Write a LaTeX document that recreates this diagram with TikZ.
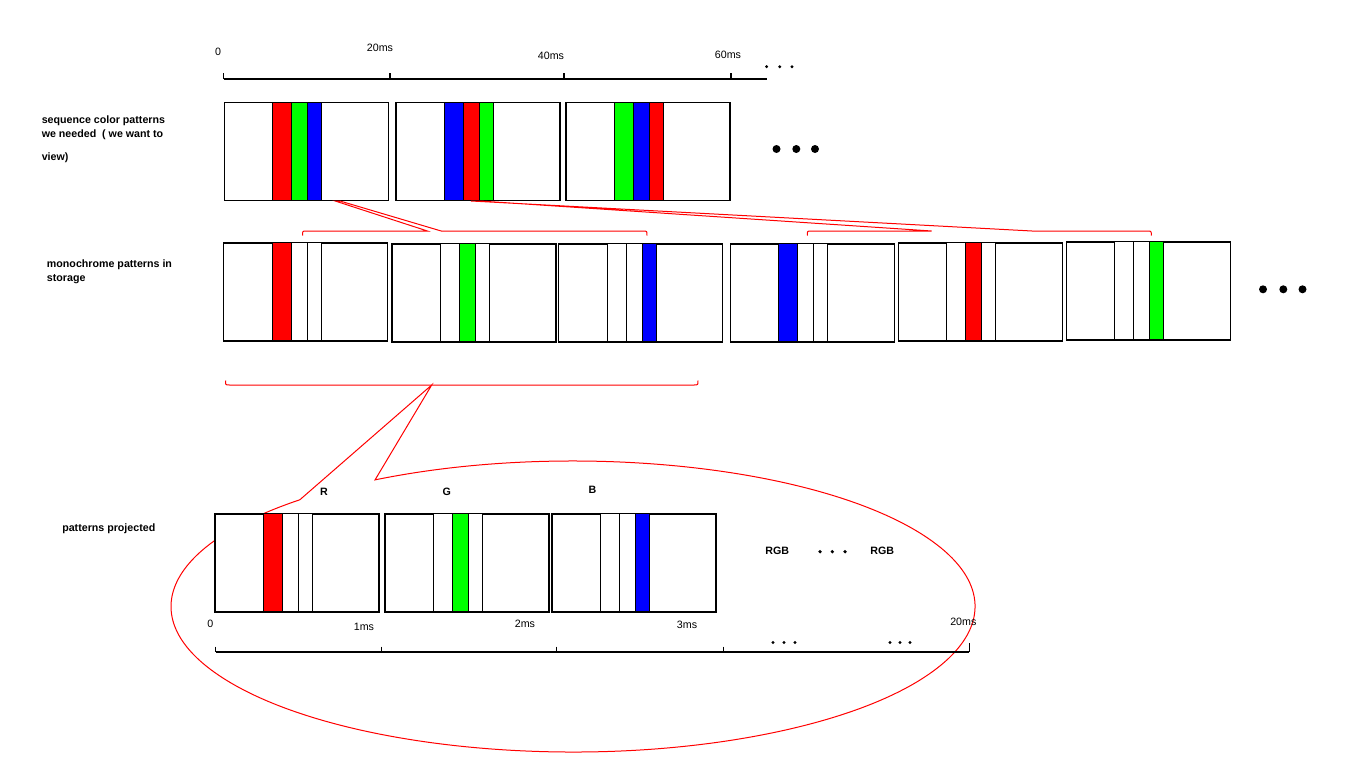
\documentclass[tikz,border=0pt]{standalone}
\usepackage{fontspec}
\setmainfont{Liberation Sans}

\begin{document}
\begin{tikzpicture}[
		x=0.75pt, y=-0.75pt,
		font=\fontsize{8}{10.7}\selectfont,
		frame/.style={draw=black, line width=0.9pt, fill=white, anchor=north west, minimum width=123pt, minimum height=73.5pt, inner sep=0pt},
		slot/.style={draw=black, line width=0.6pt},
		ruler/.style={draw=black, line width=0.9pt},
		caption/.style={font=\bfseries\fontsize{8}{10.7}\selectfont, align=left, anchor=base west, inner sep=0pt},
		letter/.style={font=\bfseries\fontsize{8}{10.7}\selectfont, inner sep=0pt},
		ticklabel/.style={inner sep=0pt},
		callout/.style={draw=red, line width=0.75pt},
		dot/.style={fill=black}
		]
		\useasboundingbox (0,0) rectangle (1348,757);
		
		% Top: time axis of the colour sequence
		\draw[ruler] (223.7,79) -- (767,79);
		\foreach \t in {223.7,390,564,731}
		\draw[ruler] (\t,73) -- (\t,79);
		\node[ticklabel] (t0) at (218,52) {0};
		\node[ticklabel] (t20) at (380,48) {20ms};
		\node[ticklabel] (t40) at (551,56) {40ms};
		\node[ticklabel] (t60) at (728,55) {60ms};
		\foreach \d in {766.6,779.7,792}
		\fill[dot] (\d,66.7) circle[radius=1.6];
		
		% Colour patterns we want to view (base = last line)
		\node[caption] (seqtext) at (41.5,160.5) {sequence color patterns\\we needed\ \ ( we want to\\[6.4pt]view)};
		\foreach \x/\y/\n/\ca/\cb/\cc in {223.6/102/seqA/red/green/blue, 395.3/102/seqB/blue/red/green, 565.4/102/seqC/green/blue/red}{
			\node[frame] (\n) at (\x,\y) {};
			\draw[slot, fill=\ca] (\x+49,\y) rectangle (\x+68,\y+98);
			\draw[slot, fill=\cb] (\x+68,\y) rectangle (\x+84,\y+98);
			\draw[slot, fill=\cc] (\x+84,\y) rectangle (\x+98,\y+98);
		}
		\foreach \d in {776.5,796.3,815}
		\fill[dot] (\d,149) circle[radius=4];
		
		% Monochrome patterns in storage
		\node[caption] (monotext) at (46.7,281.7) {monochrome patterns in\\storage};
		\foreach \x/\y/\n/\ca/\cb/\cc in {223.2/242.3/monoA/red/white/white, 391.4/243.3/monoB/white/green/white, 558.2/243.3/monoC/white/white/blue, 729.6/243.3/monoD/blue/white/white, 897.6/242.3/monoE/white/red/white, 1065.6/241.3/monoF/white/white/green}{
			\node[frame] (\n) at (\x,\y) {};
			\draw[slot, fill=\ca] (\x+49,\y) rectangle (\x+68,\y+98);
			\draw[slot, fill=\cb] (\x+68,\y) rectangle (\x+84,\y+98);
			\draw[slot, fill=\cc] (\x+84,\y) rectangle (\x+98,\y+98);
		}
		\foreach \d in {1263,1283.3,1302.5}
		\fill[dot] (\d,289.3) circle[radius=4];
		
		% Callouts from the colour patterns to the stored ones
		\draw[callout] (302.5,235.5) .. controls (302.5,231) .. (306.5,231) -- (427.4,231) -- (335.2,201) -- (340,201) -- (441.2,231) -- (643,231) .. controls (647,231) .. (647,235.5);
		\draw[callout] (807.3,235.5) .. controls (807.3,231) .. (811.3,231) -- (931.7,231) -- (480,201) -- (471,201) -- (1032,231) -- (1147.3,231) .. controls (1151.3,231) .. (1151.3,235.5);
		\draw[callout] (225.5,380.5) .. controls (225.5,385) .. (229.5,385) -- (694,385) .. controls (698,385) .. (698,380.5);
		
		% Balloon round the projected patterns
		\draw[callout] (573,606.5) ++(240.5:402 and 145.5) arc[start angle=240.5, end angle=587.2, x radius=402, y radius=145.5] -- (431.7,385) -- cycle;
		
		% Patterns projected
		\node[caption] (projtext) at (62,531) {patterns projected};
		\node[letter] (lR) at (324,492.3) {R};
		\node[letter] (lG) at (446.8,492.3) {G};
		\node[letter] (lB) at (592.5,490) {B};
		\foreach \x/\y/\n/\ca/\cb/\cc in {214.3/513.3/projA/red/white/white, 384.3/513.3/projB/white/green/white, 551.4/513.3/projC/white/white/blue}{
			\node[frame] (\n) at (\x,\y) {};
			\draw[slot, fill=\ca] (\x+49,\y) rectangle (\x+68,\y+98);
			\draw[slot, fill=\cb] (\x+68,\y) rectangle (\x+84,\y+98);
			\draw[slot, fill=\cc] (\x+84,\y) rectangle (\x+98,\y+98);
		}
		\node[letter] (rgbA) at (777.3,551) {RGB};
		\node[letter] (rgbB) at (882.3,551) {RGB};
		\foreach \d in {820,832.3,845}
		\fill[dot] (\d,551.7) circle[radius=1.8];
		
		% Bottom: time axis of one colour frame
		\draw[ruler] (215.7,652) -- (969.3,652);
		\foreach \t in {215.7,381.8,556.4,723.3}
		\draw[ruler] (\t,646.7) -- (\t,652);
		\draw[ruler] (969.3,643) -- (969.3,652);
		\node[ticklabel] (b0) at (210.4,624) {0};
		\node[ticklabel] (b1) at (364,627) {1ms};
		\node[ticklabel] (b2) at (525,623.7) {2ms};
		\node[ticklabel] (b3) at (687,625) {3ms};
		\node[ticklabel] (b20) at (963.3,622.3) {20ms};
		\foreach \d in {773,784,795,890,900,910}
		\fill[dot] (\d,642.5) circle[radius=1.6];
		
	\end{tikzpicture}
\end{document}
